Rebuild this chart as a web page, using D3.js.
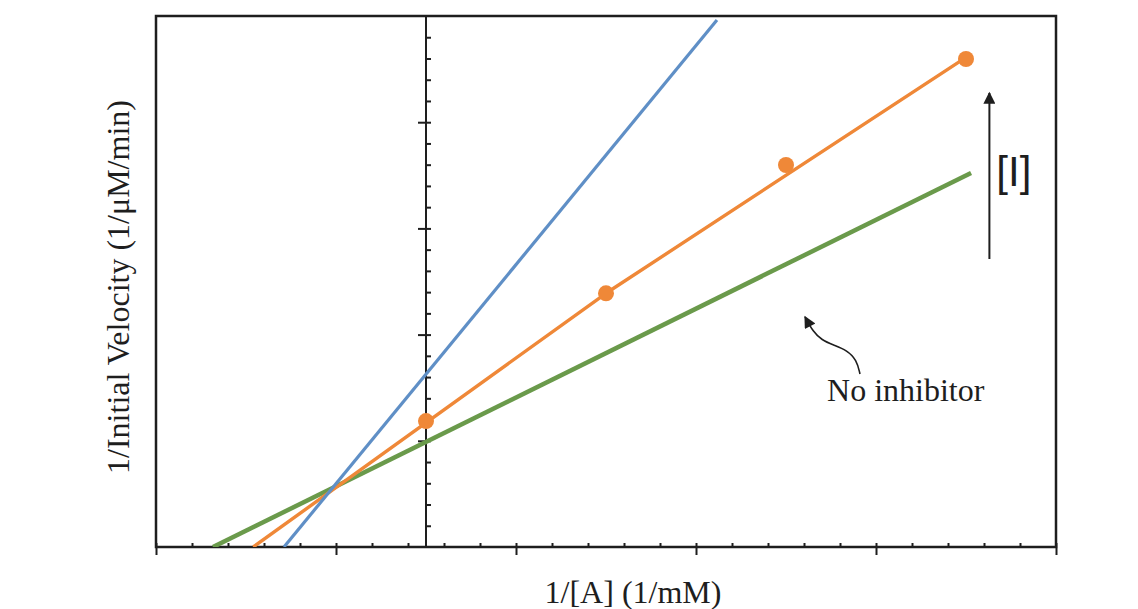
<!DOCTYPE html>
<html>
<head>
<meta charset="utf-8">
<script src="https://cdn.jsdelivr.net/npm/d3@7"></script>
<style>
  html, body { margin: 0; padding: 0; background: #fff; }
  svg { display: block; }
</style>
</head>
<body>
<svg id="chart" width="1138" height="609"></svg>
<script>
// ---------------- data ----------------
const xDomain = [-3, 7];
const yDomain = [0, 5];
const xMajorTicks = [-3, -1, 1, 3, 5, 7];
const xMinorTicks = [-2.6, -2.2, -1.8, -1.4, -0.6, -0.2, 0.2, 0.6, 1.4, 1.8, 2.2, 2.6,
                     3.4, 3.8, 4.2, 4.6, 5.4, 5.8, 6.2, 6.6];
const yMajorTicks = [1, 2, 3, 4];
const yMinorTicks = [0.2, 0.4, 0.6, 0.8, 1.2, 1.4, 1.6, 1.8, 2.2, 2.4, 2.6, 2.8,
                     3.2, 3.4, 3.6, 3.8, 4.2, 4.4, 4.6, 4.8];

// measured points (orange series)
const pointX = [0, 2, 4, 6];
const pointY = [1.186, 2.389, 3.597, 4.595];

// line vertices (x, y)
const highInhibitorX = [-1.578, 3.233];
const highInhibitorY = [0, 4.962];
const lowInhibitorX = [-1.92, 2, 6.0];
const lowInhibitorY = [0, 2.389, 4.61];
const noInhibitorX = [-2.367, 6.056];
const noInhibitorY = [0, 3.522];

// annotations (data units)
const bigArrowX = [6.26, 6.26];
const bigArrowY = [2.712, 4.275];
const curveArrowX = [4.822, 4.786, 4.674, 4.526, 4.397, 4.303, 4.211];
const curveArrowY = [1.629, 1.761, 1.855, 1.902, 1.949, 2.024, 2.168];

const xLabel = "1/[A] (1/mM)";
const yLabel = "1/Initial Velocity (1/\u03bcM/min)";
const noInhibitorLabel = "No inhibitor";
const inhibitorLabel = "[I]";

// ---------------- layout ----------------
const svg = d3.select("#chart");
const mLeft = 156, mRight = 1056, mTop = 16, mBottom = 547;
const x = d3.scaleLinear().domain(xDomain).range([mLeft, mRight]);
const y = d3.scaleLinear().domain(yDomain).range([mBottom, mTop]);

const colors = { blue: "#5f8fc6", orange: "#ef8838", green: "#6a9a4b" };
const ink = "#1e1e1e";

const defs = svg.append("defs");
defs.append("clipPath").attr("id", "plot")
  .append("rect").attr("x", mLeft).attr("y", mTop)
  .attr("width", mRight - mLeft).attr("height", mBottom - mTop);

defs.append("marker").attr("id", "head").attr("viewBox", "0 0 10 10")
  .attr("refX", 9).attr("refY", 5).attr("markerUnits", "userSpaceOnUse")
  .attr("markerWidth", 15).attr("markerHeight", 12).attr("orient", "auto")
  .append("path").attr("d", "M0,0 L10,5 L0,10 Z").attr("fill", ink);

// bottom axis ticks
function styleAxis(g) {
  g.select(".domain").remove();
  g.selectAll(".tick line").attr("stroke", ink).attr("stroke-width", 2);
  g.selectAll(".tick text").remove();
}
svg.append("g").attr("transform", `translate(0,${mBottom})`)
  .call(d3.axisBottom(x).tickValues(xMinorTicks.concat(xMajorTicks)).tickSize(-4).tickFormat(""))
  .call(styleAxis);
svg.append("g").attr("transform", `translate(0,${mBottom})`)
  .call(d3.axisBottom(x).tickValues(xMajorTicks).tickSize(8).tickFormat(""))
  .call(styleAxis);

// y axis at x = 0
svg.append("g").attr("transform", `translate(${x(0)},0)`)
  .call(d3.axisRight(y).tickValues(yMinorTicks.concat(yMajorTicks)).tickSize(5).tickFormat(""))
  .call(styleAxis);
svg.append("g").attr("transform", `translate(${x(0)},0)`)
  .call(d3.axisLeft(y).tickValues(yMajorTicks).tickSize(8).tickFormat(""))
  .call(styleAxis);
svg.append("line").attr("x1", x(0)).attr("x2", x(0)).attr("y1", y(5)).attr("y2", y(0))
  .attr("stroke", ink).attr("stroke-width", 2);

// frame
svg.append("rect").attr("x", mLeft).attr("y", mTop)
  .attr("width", mRight - mLeft).attr("height", mBottom - mTop)
  .attr("fill", "none").attr("stroke", ink).attr("stroke-width", 2.5);

// lines
const lineGen = d3.line().x(d => x(d[0])).y(d => y(d[1]));
const plot = svg.append("g").attr("clip-path", "url(#plot)");
function drawLine(xs, ys, color, w) {
  plot.append("path").datum(xs.map((v, i) => [v, ys[i]]))
    .attr("d", lineGen).attr("fill", "none")
    .attr("stroke", color).attr("stroke-width", w)
    .attr("stroke-linejoin", "round");
}
drawLine(noInhibitorX, noInhibitorY, colors.green, 4.5);
drawLine(lowInhibitorX, lowInhibitorY, colors.orange, 3.4);
drawLine(highInhibitorX, highInhibitorY, colors.blue, 3.2);

plot.selectAll("circle.pt").data(pointX.map((v, i) => [v, pointY[i]]))
  .enter().append("circle").attr("class", "pt")
  .attr("cx", d => x(d[0])).attr("cy", d => y(d[1])).attr("r", 8)
  .attr("fill", colors.orange);

// annotations
svg.append("path").datum(bigArrowX.map((v, i) => [v, bigArrowY[i]]))
  .attr("d", lineGen).attr("fill", "none").attr("stroke", ink)
  .attr("stroke-width", 2).attr("marker-end", "url(#head)");

svg.append("path").datum(curveArrowX.map((v, i) => [v, curveArrowY[i]]))
  .attr("d", d3.line().x(d => x(d[0])).y(d => y(d[1])).curve(d3.curveBasis))
  .attr("fill", "none").attr("stroke", ink)
  .attr("stroke-width", 1.6).attr("marker-end", "url(#head)");

const serif = "'Liberation Serif', 'Times New Roman', serif";
svg.append("text").attr("x", x(4.456)).attr("y", y(1.375))
  .attr("font-family", serif).attr("font-size", 32).attr("fill", ink)
  .text(noInhibitorLabel);

svg.append("text").attr("x", x(6.337)).attr("y", y(3.40))
  .attr("font-family", "'Liberation Sans', Arial, sans-serif").attr("font-size", 42)
  .attr("fill", ink).text(inhibitorLabel);

svg.append("text").attr("x", 633).attr("y", 603).attr("text-anchor", "middle")
  .attr("font-family", serif).attr("font-size", 32).attr("fill", ink).text(xLabel);

svg.append("text").attr("transform", "translate(129,287) rotate(-90)")
  .attr("text-anchor", "middle")
  .attr("font-family", serif).attr("font-size", 32).attr("fill", ink).text(yLabel);
</script>
</body>
</html>
